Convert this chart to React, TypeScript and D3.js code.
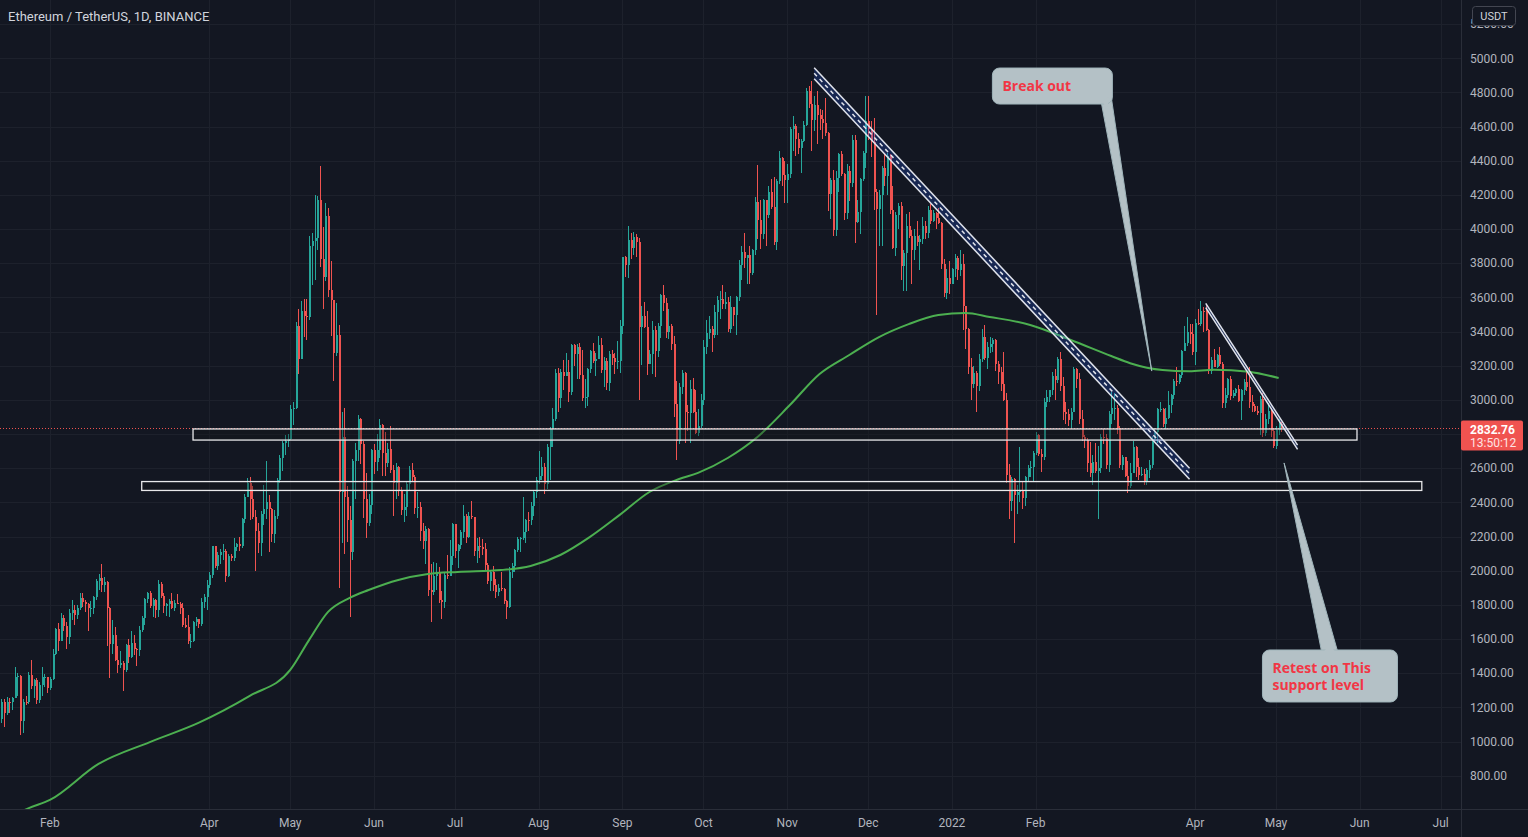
import React from "react";
import * as d3 from "d3";

const WIDTH = 1528;
const HEIGHT = 837;
const PANE_RIGHT = 1461;
const PANE_BOTTOM = 809;

const BG = "#131722";
const GRID = "#1d212c";
const AXIS_LINE = "#2a2e39";
const TEXT = "#b2b5be";
const UP = "#26a69a";
const DOWN = "#ef5350";
const FONT = "Roboto, 'Liberation Sans', sans-serif";

const title = "Ethereum / TetherUS, 1D, BINANCE";

// Daily candles, ETH/USDT, starting 2021-01-14. open = previous close
const firstDate = "2021-01-14";
const firstOpen = 1130;

const closes = [
  // 2021-01 (14..31)
  1229, 1170, 1232, 1230, 1257, 1377, 1382, 1121, 1234, 1233, 1392, 1323, 1362, 1246, 1331, 1380, 1380, 1314,
  // 2021-02
  1369, 1514, 1661, 1591, 1723, 1678, 1614, 1750, 1769, 1743, 1784, 1843, 1814, 1804, 1779, 1781, 1848, 1937, 1960, 1919,
  1935, 1781, 1570, 1626, 1475, 1446, 1459, 1416,
  // 2021-03
  1564, 1492, 1575, 1541, 1533, 1655, 1723, 1834, 1869, 1795, 1826, 1772, 1924, 1854, 1791, 1806, 1822, 1781, 1810, 1806,
  1782, 1681, 1669, 1586, 1587, 1702, 1716, 1691, 1819, 1846, 1918,
  // 2021-04
  1977, 2143, 2028, 2094, 2110, 2118, 1971, 2088, 2072, 2136, 2155, 2142, 2300, 2432, 2514, 2422, 2317, 2235, 2163, 2331,
  2364, 2403, 2363, 2213, 2318, 2533, 2662, 2747, 2757, 2773,
  // 2021-05
  2945, 2951, 3431, 3240, 3523, 3493, 3487, 3903, 3928, 3948, 4168, 3825, 3719, 4075, 3641, 3587, 3276, 3381, 2460, 2780,
  2433, 2295, 2109, 2643, 2706, 2888, 2743, 2421, 2278, 2386, 2706,
  // 2021-06
  2634, 2708, 2856, 2690, 2629, 2713, 2591, 2515, 2610, 2471, 2354, 2372, 2509, 2590, 2548, 2367, 2372, 2230, 2176, 2244,
  1889, 1874, 1970, 1989, 1829, 1816, 1974, 1971, 2084, 2275,
  // 2021-07
  2113, 2149, 2226, 2322, 2197, 2322, 2317, 2114, 2147, 2137, 2130, 2033, 1940, 1995, 1914, 1874, 1897, 1893, 1820, 1786,
  1994, 2025, 2124, 2188, 2190, 2228, 2299, 2298, 2380, 2461, 2530,
  // 2021-08
  2557, 2607, 2507, 2725, 2827, 2890, 3157, 3012, 3163, 3142, 3165, 3048, 3321, 3267, 3311, 3147, 3012, 3018, 3181, 3286,
  3226, 3240, 3320, 3173, 3226, 3100, 3270, 3243, 3224, 3226, 3433,
  // 2021-09
  3834, 3787, 3938, 3887, 3952, 3927, 3427, 3494, 3427, 3212, 3266, 3407, 3287, 3430, 3612, 3570, 3397, 3433, 3330, 2979,
  2760, 3077, 3155, 2930, 2925, 3062, 2930, 2807, 2849, 3000,
  // 2021-10
  3307, 3390, 3418, 3380, 3516, 3585, 3590, 3562, 3576, 3414, 3542, 3496, 3604, 3790, 3867, 3832, 3848, 3745, 3876, 4156,
  4055, 3971, 4170, 4084, 4215, 4130, 3925, 4283, 4418, 4318, 4288,
  // 2021-11
  4322, 4585, 4604, 4530, 4476, 4518, 4611, 4807, 4731, 4636, 4724, 4667, 4647, 4620, 4565, 4205, 4287, 3997, 4301, 4438,
  4320, 4092, 4340, 4270, 4522, 4042, 4098, 4294, 4444, 4631,
  // 2021-12
  4587, 4512, 4220, 4117, 4198, 4358, 4310, 4428, 4109, 3892, 4081, 4134, 3782, 3862, 4020, 3960, 3880, 3960, 3922, 3941,
  4019, 3979, 4109, 4048, 4095, 4066, 4037, 3796, 3628, 3713, 3676,
  // 2022-01
  3765, 3829, 3761, 3794, 3550, 3417, 3193, 3091, 3157, 3083, 3240, 3371, 3244, 3310, 3330, 3350, 3212, 3163, 3095, 3001,
  2562, 2406, 2538, 2441, 2458, 2464, 2423, 2547, 2600, 2605, 2688,
  // 2022-02
  2792, 2681, 2665, 2990, 3017, 3056, 3142, 3119, 3240, 3080, 2928, 2918, 2880, 2930, 3182, 3124, 2888, 2784, 2763, 2628,
  2571, 2639, 2583, 2599, 2780, 2779, 2620, 2920,
  // 2022-03
  2950, 2951, 2835, 2620, 2664, 2555, 2496, 2574, 2727, 2607, 2558, 2569, 2518, 2590, 2620, 2772, 2814, 2944, 2947, 2860,
  2896, 2973, 3029, 3108, 3107, 3144, 3287, 3331, 3400, 3384, 3282,
  // 2022-04
  3453, 3444, 3522, 3521, 3411, 3171, 3233, 3192, 3262, 3212, 2980, 3030, 3120, 3022, 3040, 3063, 2993, 3058, 3105, 3076,
  2986, 2964, 2935, 2922, 3008, 2808, 2888, 2936, 2817, 2729,
  // 2022-05
  2826, 2858, 2832.76,
];

const highs = [
  // 2021-01
  1247, 1250, 1260, 1255, 1260, 1438, 1400, 1390, 1250, 1265, 1410, 1475, 1368, 1370, 1350, 1437, 1395, 1380,
  // 2021-02
  1375, 1543, 1665, 1693, 1755, 1740, 1700, 1775, 1828, 1800, 1800, 1871, 1870, 1830, 1810, 1825, 1850, 1950, 1980, 2041,
  1965, 1940, 1786, 1710, 1673, 1558, 1530, 1470,
  // 2021-03
  1570, 1600, 1650, 1622, 1548, 1675, 1736, 1840, 1875, 1880, 1840, 1836, 1945, 1932, 1870, 1810, 1832, 1870, 1830, 1865,
  1815, 1810, 1725, 1740, 1628, 1703, 1730, 1720, 1842, 1862, 1945,
  // 2021-04
  1990, 2145, 2145, 2112, 2128, 2157, 2125, 2100, 2097, 2192, 2165, 2200, 2310, 2449, 2543, 2550, 2497, 2355, 2280, 2349,
  2500, 2645, 2445, 2370, 2353, 2544, 2675, 2760, 2797, 2798,
  // 2021-05
  2970, 2985, 3458, 3530, 3580, 3590, 3592, 3960, 3980, 4200, 4195, 4372, 4010, 4150, 4126, 3815, 3580, 3565, 3440, 2930,
  2950, 2496, 2380, 2654, 2750, 2910, 2893, 2760, 2570, 2452, 2715,
  // 2021-06
  2740, 2800, 2891, 2857, 2814, 2745, 2845, 2620, 2630, 2612, 2490, 2450, 2520, 2611, 2630, 2560, 2460, 2400, 2280, 2260,
  2250, 2040, 2050, 2045, 2020, 1880, 1985, 2090, 2180, 2280,
  // 2021-07
  2275, 2155, 2237, 2385, 2330, 2346, 2410, 2317, 2190, 2200, 2185, 2160, 2045, 2005, 2025, 1950, 1925, 1990, 1900, 1830,
  2020, 2045, 2130, 2195, 2200, 2430, 2300, 2345, 2400, 2470, 2550,
  // 2021-08
  2700, 2665, 2630, 2740, 2840, 2950, 3180, 3185, 3180, 3235, 3275, 3235, 3330, 3330, 3330, 3335, 3290, 3120, 3187, 3290,
  3333, 3275, 3375, 3360, 3250, 3248, 3285, 3290, 3275, 3345, 3470,
  // 2021-09
  3839, 3840, 4020, 3975, 3985, 3970, 3950, 3550, 3575, 3520, 3290, 3460, 3430, 3450, 3620, 3675, 3595, 3535, 3445, 3375,
  3110, 3100, 3175, 3165, 2970, 3115, 3130, 3060, 2945, 3035,
  // 2021-10
  3350, 3470, 3490, 3435, 3555, 3610, 3640, 3675, 3630, 3605, 3610, 3545, 3610, 3820, 3903, 3975, 3850, 3900, 3885, 4190,
  4375, 4170, 4175, 4170, 4255, 4295, 4305, 4295, 4460, 4420, 4400,
  // 2021-11
  4380, 4600, 4665, 4615, 4560, 4525, 4630, 4825, 4840, 4868, 4780, 4810, 4705, 4700, 4765, 4570, 4300, 4345, 4340, 4445,
  4455, 4330, 4380, 4370, 4550, 4550, 4170, 4300, 4460, 4780,
  // 2021-12
  4780, 4635, 4650, 4235, 4230, 4370, 4440, 4445, 4440, 4250, 4100, 4150, 4160, 3880, 4090, 4100, 3995, 4000, 4045, 3965,
  4070, 4050, 4135, 4145, 4110, 4100, 4125, 4040, 3825, 3765, 3815,
  // 2022-01
  3770, 3855, 3845, 3875, 3855, 3550, 3420, 3245, 3200, 3170, 3270, 3415, 3440, 3340, 3370, 3365, 3355, 3225, 3190, 3280,
  3040, 2625, 2550, 2545, 2500, 2725, 2525, 2555, 2620, 2640, 2700,
  // 2022-02
  2815, 2800, 2710, 3010, 3060, 3060, 3165, 3180, 3250, 3280, 3135, 2990, 2945, 2950, 3190, 3185, 3160, 2940, 2795, 2775,
  2755, 2675, 2750, 2730, 2800, 2830, 2800, 2935,
  // 2022-03
  3045, 3040, 2970, 2850, 2680, 2665, 2640, 2630, 2760, 2730, 2660, 2605, 2595, 2600, 2650, 2790, 2835, 2950, 2990, 2950,
  2950, 3050, 3035, 3125, 3195, 3150, 3295, 3430, 3485, 3445, 3445,
  // 2022-04
  3475, 3535, 3580, 3545, 3555, 3415, 3250, 3300, 3270, 3310, 3220, 3070, 3130, 3140, 3060, 3070, 3085, 3063, 3120, 3170,
  3190, 3030, 2975, 2965, 3025, 3040, 2920, 2980, 2950, 2835,
  // 2022-05
  2845, 2890, 2870,
];

const lows = [
  // 2021-01
  1108, 1088, 1153, 1165, 1185, 1252, 1265, 1040, 1050, 1215, 1220, 1305, 1255, 1218, 1225, 1265, 1320, 1285,
  // 2021-02
  1302, 1363, 1507, 1530, 1590, 1650, 1540, 1570, 1713, 1681, 1720, 1770, 1785, 1760, 1650, 1730, 1748, 1830, 1890, 1875,
  1878, 1560, 1370, 1511, 1470, 1400, 1433, 1293,
  // 2021-03
  1410, 1460, 1490, 1508, 1440, 1500, 1640, 1683, 1810, 1780, 1730, 1725, 1732, 1840, 1750, 1735, 1732, 1778, 1765, 1805,
  1745, 1670, 1662, 1570, 1549, 1582, 1677, 1662, 1678, 1780, 1768,
  // 2021-04
  1900, 1960, 2016, 2005, 2040, 2060, 1935, 1964, 2056, 2055, 2118, 2115, 2133, 2278, 2430, 2295, 2300, 2000, 2102, 2088,
  2270, 2305, 2108, 2168, 2165, 2300, 2514, 2584, 2680, 2725,
  // 2021-05
  2768, 2855, 2945, 3150, 3255, 3370, 3350, 3465, 3670, 3700, 3880, 3777, 3530, 3695, 3600, 3375, 3108, 3260, 1900, 2160,
  2100, 2170, 1730, 2060, 2420, 2642, 2625, 2310, 2190, 2260, 2330,
  // 2021-06
  2566, 2582, 2660, 2552, 2555, 2610, 2573, 2320, 2420, 2440, 2326, 2285, 2320, 2470, 2521, 2330, 2310, 2175, 2130, 2040,
  1850, 1700, 1855, 1890, 1810, 1720, 1780, 1950, 1970, 2035,
  // 2021-07
  2076, 2018, 2130, 2190, 2160, 2190, 2300, 2085, 2045, 2075, 2095, 2000, 1925, 1880, 1880, 1843, 1852, 1880, 1805, 1718,
  1780, 1955, 1990, 2110, 2110, 2180, 2160, 2230, 2270, 2320, 2425,
  // 2021-08
  2510, 2531, 2450, 2480, 2530, 2725, 2875, 2930, 2952, 3060, 3140, 2985, 3030, 3200, 3120, 3125, 2992, 2950, 2965, 3155,
  3215, 3140, 3240, 3155, 3078, 3060, 3055, 3205, 3150, 3180, 3160,
  // 2021-09
  3387, 3720, 3712, 3825, 3850, 3835, 3000, 3205, 3420, 3145, 3210, 3150, 3137, 3250, 3360, 3520, 3360, 3355, 3290, 2900,
  2650, 2740, 3032, 2745, 2820, 2750, 2925, 2800, 2790, 2835,
  // 2021-10
  2970, 3267, 3356, 3280, 3365, 3380, 3475, 3530, 3535, 3400, 3390, 3430, 3380, 3580, 3700, 3770, 3680, 3680, 3730, 3850,
  3945, 3885, 3940, 3900, 4065, 4120, 3905, 3880, 4262, 4250, 4150,
  // 2021-11
  4150, 4300, 4460, 4430, 4440, 4330, 4510, 4605, 4710, 4460, 4575, 4500, 4580, 4525, 4545, 4105, 4060, 3960, 3960, 4215,
  4310, 4055, 4060, 4165, 4245, 3920, 4038, 3970, 4280, 4360,
  // 2021-12
  4520, 4425, 4110, 3500, 3900, 3900, 4250, 4200, 4090, 3885, 3845, 4000, 3700, 3640, 3640, 3950, 3680, 3820, 3900, 3760,
  3910, 3945, 3950, 4030, 4040, 4000, 4030, 3765, 3605, 3590, 3620,
  // 2022-01
  3680, 3720, 3700, 3725, 3410, 3300, 3150, 3000, 3070, 2930, 3055, 3220, 3235, 3180, 3275, 3280, 3170, 3095, 3055, 2995,
  2515, 2300, 2350, 2160, 2330, 2400, 2360, 2380, 2520, 2550, 2520,
  // 2022-02
  2680, 2670, 2580, 2650, 2960, 2990, 3030, 3000, 3100, 3055, 2880, 2860, 2850, 2830, 2930, 3070, 2860, 2760, 2720, 2580,
  2550, 2500, 2574, 2300, 2575, 2740, 2595, 2580,
  // 2022-03
  2860, 2885, 2800, 2600, 2590, 2550, 2455, 2485, 2570, 2550, 2530, 2555, 2500, 2500, 2540, 2600, 2760, 2750, 2930, 2840,
  2830, 2890, 2925, 3005, 3080, 3095, 3130, 3285, 3315, 3325, 3265,
  // 2022-04
  3205, 3440, 3435, 3400, 3405, 3150, 3150, 3190, 3185, 3200, 2950, 2950, 3010, 3000, 3010, 3025, 2990, 2885, 3030, 3050,
  2950, 2930, 2930, 2910, 2795, 2780, 2790, 2860, 2780, 2720,
  // 2022-05
  2715, 2795, 2810,
];

const lastPrice = 2832.76;
const countdown = "13:50:12";

const priceTicks = [800, 1000, 1200, 1400, 1600, 1800, 2000, 2200, 2400, 2600, 2800, 3000, 3200, 3400, 3600, 3800, 4000, 4200, 4400, 4600, 4800, 5000, 5200];

const monthTickDates = ["2021-02-01", "2021-04-01", "2021-05-01", "2021-06-01", "2021-07-01", "2021-08-01", "2021-09-01", "2021-10-01", "2021-11-01", "2021-12-01", "2022-01-01", "2022-02-01", "2022-04-01", "2022-05-01", "2022-06-01", "2022-07-01"];
const monthTickLabels = ["Feb", "Apr", "May", "Jun", "Jul", "Aug", "Sep", "Oct", "Nov", "Dec", "2022", "Feb", "Apr", "May", "Jun", "Jul"];

// 200-day moving average
const smaDates = ["2021-01-14", "2021-01-24", "2021-02-01", "2021-02-19", "2021-03-10", "2021-03-28", "2021-04-16", "2021-05-01", "2021-05-08", "2021-05-15", "2021-05-23", "2021-05-30", "2021-06-10", "2021-06-21", "2021-07-02", "2021-07-18", "2021-07-29", "2021-08-09", "2021-08-20", "2021-08-31", "2021-09-11", "2021-09-22", "2021-09-29", "2021-10-10", "2021-10-21", "2021-11-02", "2021-11-13", "2021-11-24", "2021-12-05", "2021-12-16", "2021-12-27", "2022-01-06", "2022-01-15", "2022-01-30", "2022-02-14", "2022-03-01", "2022-03-08", "2022-03-20", "2022-03-30", "2022-04-08", "2022-04-21", "2022-05-02"];
const smaValues = [530, 609, 658, 869, 997, 1109, 1267, 1419, 1595, 1759, 1841, 1887, 1946, 1981, 1993, 2004, 2028, 2092, 2198, 2327, 2461, 2537, 2573, 2660, 2783, 2970, 3152, 3263, 3368, 3444, 3497, 3509, 3486, 3439, 3351, 3257, 3215, 3175, 3168, 3177, 3165, 3128];

// Horizontal support zones
const zoneStarts = ["2021-03-26", "2021-03-07"];
const zoneEnds = ["2022-05-31", "2022-06-24"];
const zoneTops = [2830, 2522];
const zoneBottoms = [2765, 2470];

// Descending channels
const channelStartDates = ["2021-11-11", "2022-04-05"];
const channelStartPrices = [4945, 3565];
const channelEndDates = ["2022-03-30", "2022-05-09"];
const channelEndPrices = [2600, 2735];
const channelWidths = [65, 25];
const channelMidline = [true, false];

// Callouts
const calloutLines = [["Break out"], ["Retest on This", "support level"]];
const calloutBoxDates = ["2022-01-16", "2022-04-26"];
const calloutBoxPrices = [4943, 1536];
const calloutTipDates = ["2022-03-16", "2022-05-04"];
const calloutTipPrices = [3169, 2631];

const parse = d3.utcParse("%Y-%m-%d");

export default function App() {
  const x = d3
    .scaleUtc()
    .domain([parse("2021-02-01") as Date, parse("2022-07-01") as Date])
    .range([49.9, 1440.7]);
  const y = d3.scaleLinear().domain([800, 5000]).range([775.7, 58.3]);

  const start = parse(firstDate) as Date;
  const candles = closes.map((c, i) => {
    const o = i === 0 ? firstOpen : closes[i - 1];
    const h = Math.max(highs[i], o, c);
    const l = Math.min(lows[i], o, c);
    return { date: d3.utcDay.offset(start, i), o, h, l, c };
  });

  const bodyW = 2;

  const smaLine = d3
    .line<number>()
    .x((_, i) => x(parse(smaDates[i]) as Date))
    .y((v) => y(v))
    .curve(d3.curveMonotoneX);

  const px = (d: string) => x(parse(d) as Date);

  const calloutSizes = [
    [120, 36],
    [135, 52],
  ];
  const callouts = calloutLines.map((lines, i) => {
    const bx = px(calloutBoxDates[i]);
    const by = y(calloutBoxPrices[i]);
    const [bw, bh] = calloutSizes[i];
    const tx = px(calloutTipDates[i]);
    const ty = y(calloutTipPrices[i]);
    const below = ty > by + bh;
    const base: [number, number][] = below
      ? [
          [bx + bw - 11, by + bh - 1],
          [bx + bw - 1, by + bh - 6],
        ]
      : [
          [bx + 59, by + 1],
          [bx + 75, by + 1],
        ];
    return { lines, bx, by, bw, bh, tx, ty, base, below };
  });

  const yLast = y(lastPrice);
  const visibleTicks = priceTicks.filter((t) => Math.abs(y(t) - yLast) > 18);

  return (
    <svg
      width={WIDTH}
      height={HEIGHT}
      style={{ position: "absolute", left: 0, top: 0, display: "block" }}
      fontFamily={FONT}
    >
      <defs>
        <clipPath id="pane">
          <rect x={0} y={0} width={PANE_RIGHT} height={PANE_BOTTOM} />
        </clipPath>
      </defs>
      <rect x={0} y={0} width={WIDTH} height={HEIGHT} fill={BG} />

      {/* grid */}
      <g clipPath="url(#pane)" shapeRendering="crispEdges">
        {priceTicks.map((t) => (
          <line key={"h" + t} x1={0} x2={PANE_RIGHT} y1={Math.round(y(t)) + 0.5} y2={Math.round(y(t)) + 0.5} stroke={GRID} />
        ))}
        {monthTickDates.map((d) => (
          <line key={"v" + d} x1={Math.round(px(d)) + 0.5} x2={Math.round(px(d)) + 0.5} y1={0} y2={PANE_BOTTOM} stroke={GRID} />
        ))}
      </g>

      {/* candles */}
      <g clipPath="url(#pane)" shapeRendering="crispEdges">
        {candles.map((k, i) => {
          const cx = Math.round(x(k.date));
          const col = k.c >= k.o ? UP : DOWN;
          const top = y(Math.max(k.o, k.c));
          const bot = y(Math.min(k.o, k.c));
          return (
            <g key={i}>
              <rect x={cx} y={y(k.h)} width={1} height={Math.max(1, y(k.l) - y(k.h))} fill={col} />
              <rect x={cx - bodyW / 2 + 0.5} y={top} width={bodyW} height={Math.max(1, bot - top)} fill={col} />
            </g>
          );
        })}
      </g>

      {/* moving average */}
      <g clipPath="url(#pane)">
        <path d={smaLine(smaValues) || ""} fill="none" stroke="#4caf50" strokeWidth={2} />
      </g>

      {/* last price line */}
      <line x1={0} x2={PANE_RIGHT} y1={yLast} y2={yLast} stroke={DOWN} strokeWidth={1} strokeDasharray="1 2" />

      {/* support zones */}
      <g clipPath="url(#pane)">
        {zoneStarts.map((s, i) => {
          const x0 = px(s);
          const x1 = px(zoneEnds[i]);
          const y0 = y(zoneTops[i]);
          const y1 = y(zoneBottoms[i]);
          return (
            <rect
              key={"z" + i}
              x={x0}
              y={y0}
              width={x1 - x0}
              height={y1 - y0}
              fill="rgba(20,20,24,0.35)"
              stroke="#e8e8ea"
              strokeWidth={1.3}
            />
          );
        })}
      </g>

      {/* channels */}
      <g clipPath="url(#pane)">
        {channelStartDates.map((s, i) => {
          const x0 = px(s);
          const x1 = px(channelEndDates[i]);
          const y0 = y(channelStartPrices[i]);
          const y1 = y(channelEndPrices[i]);
          const y0b = y(channelStartPrices[i] - channelWidths[i]);
          const y1b = y(channelEndPrices[i] - channelWidths[i]);
          return (
            <g key={"c" + i}>
              <polygon
                points={`${x0},${y0} ${x1},${y1} ${x1},${y1b} ${x0},${y0b}`}
                fill="rgba(41,98,255,0.22)"
              />
              {channelMidline[i] && (
                <line
                  x1={x0}
                  y1={(y0 + y0b) / 2}
                  x2={x1}
                  y2={(y1 + y1b) / 2}
                  stroke="#e0e3eb"
                  strokeWidth={1.5}
                  strokeDasharray="4 4"
                />
              )}
              <line x1={x0} y1={y0} x2={x1} y2={y1} stroke="#e0e3eb" strokeWidth={1.5} />
              <line x1={x0} y1={y0b} x2={x1} y2={y1b} stroke="#e0e3eb" strokeWidth={1.5} />
            </g>
          );
        })}
      </g>

      {/* callouts */}
      {callouts.map((c, i) => (
        <g key={"co" + i}>
          <polygon
            points={`${c.base[0][0]},${c.base[0][1]} ${c.tx},${c.ty} ${c.base[1][0]},${c.base[1][1]}`}
            fill="#b4c1c6"
            stroke="#9fb4ba"
            strokeWidth={1}
          />
          <rect x={c.bx} y={c.by} width={c.bw} height={c.bh} rx={7} fill="#b4c1c6" stroke="#9fb4ba" strokeWidth={1} />
          <polygon
            points={`${c.base[0][0] + 1},${c.base[0][1] + (c.below ? -2 : 2)} ${c.base[1][0] - 1},${c.base[1][1] + (c.below ? -2 : 2)} ${(c.base[0][0] + c.base[1][0]) / 2},${c.base[0][1] + (c.below ? 6 : -6)}`}
            fill="#b4c1c6"
          />
          {c.lines.map((t, j) => (
            <text
              key={j}
              x={c.bx + 10}
              y={c.by + 23 + j * 17}
              fill="#f23645"
              fontSize={14}
              fontWeight={700}
              fontFamily="'Open Sans', 'Noto Sans', sans-serif"
            >
              {t}
            </text>
          ))}
        </g>
      ))}

      {/* title */}
      <text x={8} y={21} fill="#d1d4dc" fontSize={13}>
        {title}
      </text>

      {/* axes frame */}
      <rect x={PANE_RIGHT} y={0} width={WIDTH - PANE_RIGHT} height={HEIGHT} fill={BG} />
      <rect x={0} y={PANE_BOTTOM} width={PANE_RIGHT} height={HEIGHT - PANE_BOTTOM} fill={BG} />
      <line x1={PANE_RIGHT + 0.5} x2={PANE_RIGHT + 0.5} y1={0} y2={HEIGHT} stroke={AXIS_LINE} />
      <line x1={0} x2={WIDTH} y1={PANE_BOTTOM + 0.5} y2={PANE_BOTTOM + 0.5} stroke={AXIS_LINE} />

      {/* price axis */}
      {visibleTicks.map((t) => (
        <text key={"yl" + t} x={1470} y={y(t)} dy="0.35em" fill={TEXT} fontSize={12}>
          {t.toFixed(2)}
        </text>
      ))}

      {/* time axis */}
      {monthTickDates.map((d, i) => (
        <text key={"xl" + d} x={px(d)} y={827} textAnchor="middle" fill={TEXT} fontSize={12}>
          {monthTickLabels[i]}
        </text>
      ))}

      {/* currency badge */}
      <rect x={1472.5} y={6.5} width={43} height={19} rx={3} fill={BG} stroke="#434651" />
      <text x={1494} y={16} dy="0.35em" textAnchor="middle" fill="#d1d4dc" fontSize={11}>
        USDT
      </text>

      {/* last price label */}
      <rect x={PANE_RIGHT} y={yLast - 8} width={62} height={30} rx={2} fill="#f05350" />
      <text x={1470} y={yLast + 1} dy="0.35em" fill="#ffffff" fontSize={12} fontWeight="bold">
        {lastPrice.toFixed(2)}
      </text>
      <text x={1470} y={yLast + 14} dy="0.35em" fill="#ffe3e3" fontSize={12}>
        {countdown}
      </text>
    </svg>
  );
}
